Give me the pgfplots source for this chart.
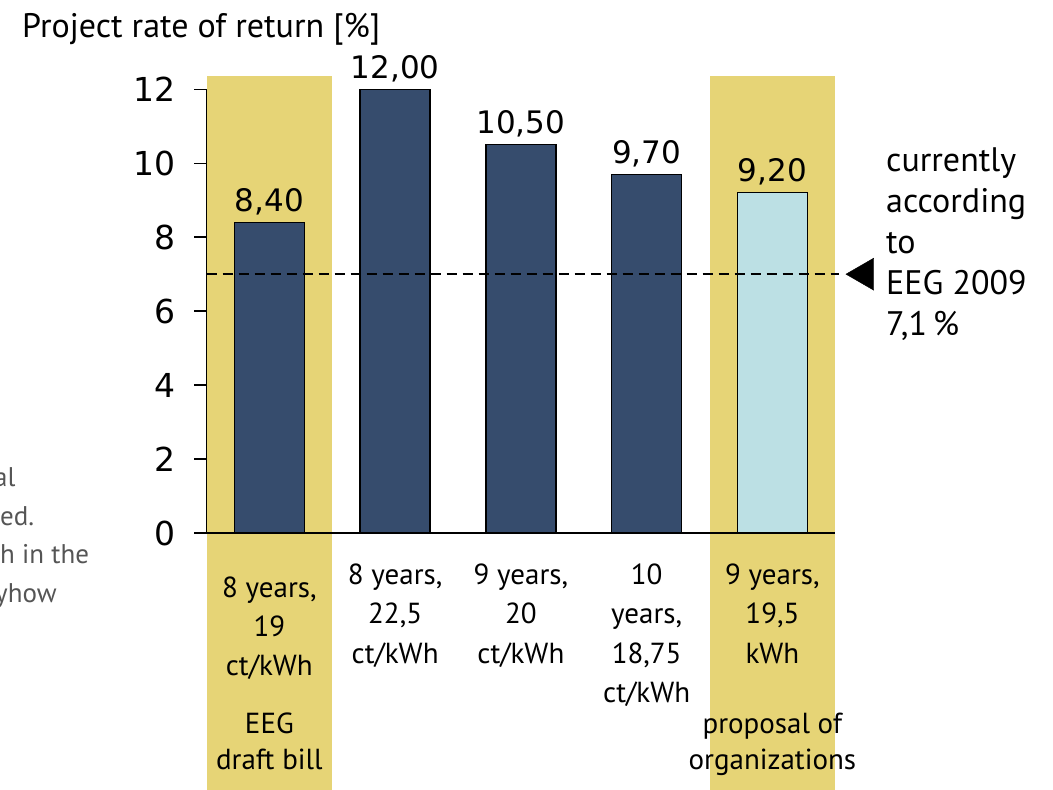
\documentclass[border=0pt]{standalone}
\usepackage{pgfplots}
\pgfplotsset{compat=1.18}
\usepackage{fontspec}
\setmainfont{PT Sans}
\newfontfamily\numfont{DejaVu Sans}
\definecolor{bandyellow}{HTML}{E6D476}
\definecolor{navy}{HTML}{364C6D}
\definecolor{lightcyan}{HTML}{BCE0E4}
\definecolor{greytext}{HTML}{555555}
\newcommand{\bigf}{\fontsize{34}{40}\selectfont}
\newcommand{\tickf}{\numfont\fontsize{33}{40}\selectfont}
\newcommand{\catf}{\fontsize{29}{34}\selectfont}
\newcommand{\valf}{\numfont\fontsize{31}{36}\selectfont}
\newcommand{\greyf}{\fontsize{27}{32}\selectfont}
\newcommand{\cl}[3]{\node[anchor=base, inner sep=0pt, font=\catf] at (axis cs:#1,#2) {#3};}
\begin{document}
\begin{tikzpicture}
\path[use as bounding box] (0,0) rectangle (1053pt,790pt);
\begin{axis}[
  at={(206.5pt,257pt)}, anchor=south west,
  scale only axis, width=628.8pt, height=443.7pt,
  xmin=-0.5, xmax=4.5, ymin=0, ymax=12,
  clip=false, axis on top,
  axis x line=bottom, axis y line=left,
  axis line style={line width=1.4pt, -},
  xtick=\empty, ytick={0,2,4,6,8,10,12},
  tick style={line width=1.4pt, black},
  major tick length=12pt, tick align=outside,
  yticklabel style={font=\tickf, inner sep=0pt, xshift=-19pt},
  /pgf/number format/assume math mode=true,
]
% background bands
\addplot[fill=bandyellow, draw=none] coordinates {(-0.5,-6.95) (0.5,-6.95) (0.5,12.36) (-0.5,12.36)};
\addplot[fill=bandyellow, draw=none] coordinates {(3.5,-6.95) (4.5,-6.95) (4.5,12.36) (3.5,12.36)};
% bars
\addplot[ybar, bar width=70pt, bar shift=0pt, fill=navy, draw=black, line width=1.3pt,
  nodes near coords={\pgfmathprintnumber[fixed,fixed zerofill,precision=2,use comma]{\pgfplotspointmeta}},
  nodes near coords style={font=\valf, anchor=base, inner sep=0pt, yshift=11pt, text=black}]
  coordinates {(0,8.4) (1,12.0) (2,10.5) (3,9.7)};
\addplot[ybar, bar width=70pt, bar shift=0pt, fill=lightcyan, draw=black, line width=1.3pt,
  nodes near coords={\pgfmathprintnumber[fixed,fixed zerofill,precision=2,use comma]{\pgfplotspointmeta}},
  nodes near coords style={font=\valf, anchor=base, inner sep=0pt, yshift=11pt, text=black}]
  coordinates {(4,9.2)};
% reference line
\addplot[black, line width=1.7pt, dash pattern=on 10pt off 6pt] coordinates {(-0.5,7.0) (4.53,7.0)};
\addplot[only marks, mark=triangle*, mark size=18.5pt, mark options={rotate=90, fill=black, draw=black}] coordinates {(4.732,7.0)};
% category labels
\cl{0}{-1.731}{8 years,}
\cl{0}{-2.786}{19}
\cl{0}{-3.841}{ct/kWh}
\cl{1}{-1.406}{8 years,}
\cl{1}{-2.461}{22,5}
\cl{1}{-3.516}{ct/kWh}
\cl{2}{-1.406}{9 years,}
\cl{2}{-2.461}{20}
\cl{2}{-3.516}{ct/kWh}
\cl{3}{-1.406}{10}
\cl{3}{-2.461}{years,}
\cl{3}{-3.516}{18,75}
\cl{3}{-4.571}{ct/kWh}
\cl{4}{-1.406}{9 years,}
\cl{4}{-2.461}{19,5}
\cl{4}{-3.516}{kWh}
\cl{0}{-5.436}{EEG}
\cl{0}{-6.383}{draft bill}
\cl{4}{-5.436}{proposal of}
\cl{4}{-6.383}{organizations}
\end{axis}
% title
\node[anchor=base west, inner sep=0pt, font=\bigf] at (22pt,752pt) {Project rate of return [\%]};
% right annotation
\node[anchor=base west, inner sep=0pt, font=\bigf] at (886pt,618pt) {currently};
\node[anchor=base west, inner sep=0pt, font=\bigf] at (886pt,577pt) {according};
\node[anchor=base west, inner sep=0pt, font=\bigf] at (886pt,536pt) {to};
\node[anchor=base west, inner sep=0pt, font=\bigf] at (886pt,495pt) {EEG 2009};
\node[anchor=base west, inner sep=0pt, font=\bigf] at (886pt,454pt) {7,1\,\%};
% cut-off grey text at left edge (cropped in the reference)
\node[anchor=base west, inner sep=0pt, font=\greyf, text=greytext] at (-6pt,303pt) {al};
\node[anchor=base west, inner sep=0pt, font=\greyf, text=greytext] at (0pt,264pt) {ed.};
\node[anchor=base west, inner sep=0pt, font=\greyf, text=greytext] at (0pt,226pt) {h in the};
\node[anchor=base west, inner sep=0pt, font=\greyf, text=greytext] at (-5pt,187pt) {yhow};
\end{tikzpicture}
\end{document}
